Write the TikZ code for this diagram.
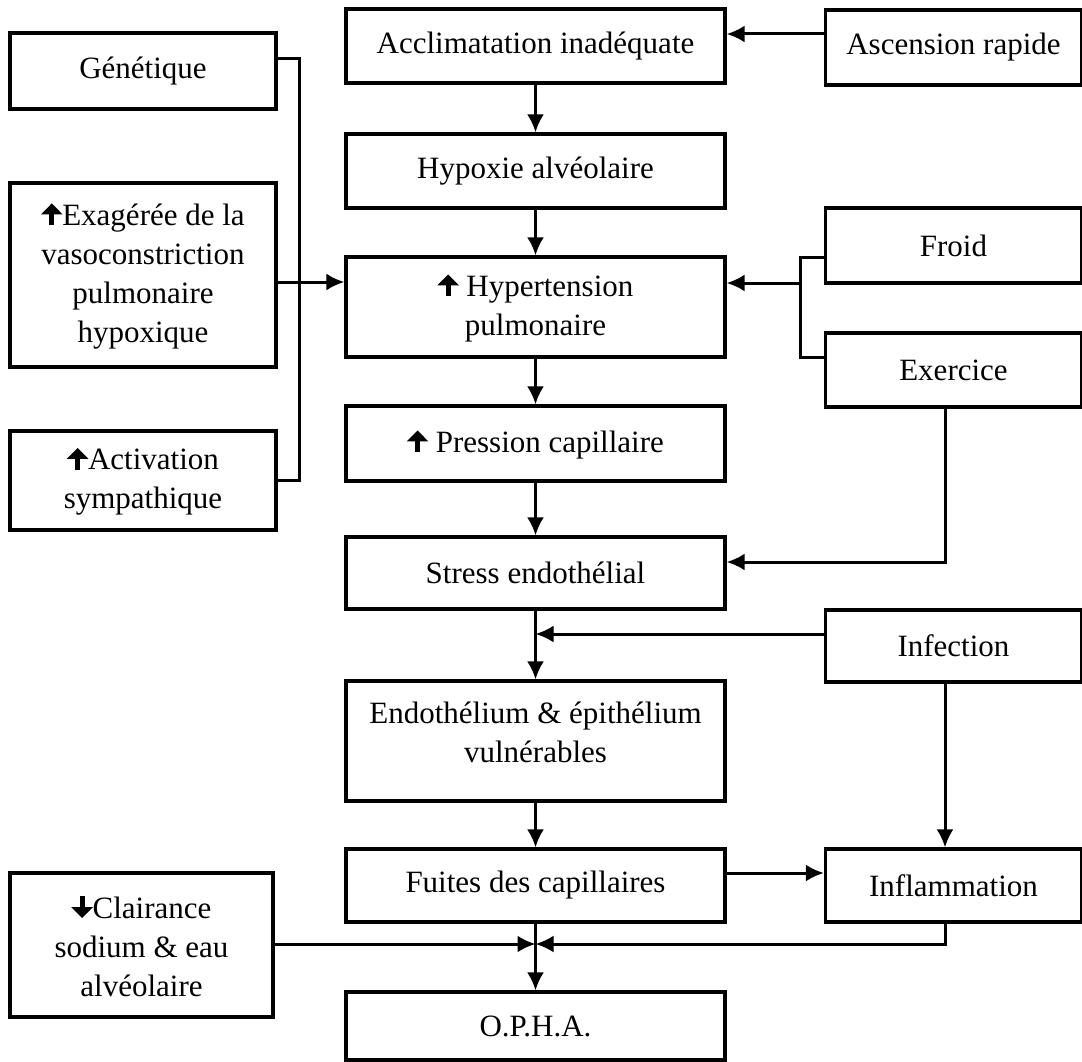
\documentclass[tikz,border=0pt]{standalone}
\usepackage{fontspec}
\setmainfont{Liberation Serif}
\usetikzlibrary{arrows.meta}
% fleche pleine dans le texte
\newcommand{\haut}{\tikz[baseline=0pt,x=1pt,y=1pt]\draw[line width=5pt,-{Triangle[length=11pt,width=21pt]}] (10,0) -- (10,22);}
\newcommand{\bas}{\tikz[baseline=0pt,x=1pt,y=1pt]\draw[line width=5pt,-{Triangle[length=11pt,width=21pt]}] (10,22) -- (10,0);}
\tikzset{
  boite/.style={draw,rectangle,align=center,inner sep=0pt,line width=3.2pt,
    font=\fontsize{31}{39}\selectfont},
  centre/.style={boite,minimum width=379pt},
  cote/.style={boite,minimum width=256pt}
}
\begin{document}
\begin{tikzpicture}[x=1pt,y=-1pt,>={Latex[length=18pt,width=17pt]},line width=3pt]
   \useasboundingbox (0,0) rectangle (1082,1062);

   % colonne centrale
   \node[centre,minimum height=74pt] (accl) at (535.5,46) {Acclimatation inadéquate};
   \node[centre,minimum height=74pt] (hypox) at (535.5,171) {Hypoxie alvéolaire};
   \node[centre,minimum height=100pt] (hyper) at (535.5,307) {\haut\ Hypertension\\pulmonaire};
   \node[centre,minimum height=75pt] (press) at (535.5,443.5) {\haut\ Pression capillaire};
   \node[centre,minimum height=72pt] (stress) at (535.5,573) {Stress endothélial};
   \node[centre,minimum height=120pt] (endo) at (535.5,741) {Endothélium \& épithélium\\vulnérables\\[-22pt]\mbox{}};
   \node[centre,minimum height=73pt] (fuites) at (535.5,885.5) {Fuites des capillaires};
   \node[centre,minimum height=68pt] (opha) at (535.5,1026) {O.P.H.A.};

   % colonne gauche
   \node[boite,minimum width=266pt,minimum height=76pt] (genet) at (143,71) {Génétique};
   \node[boite,minimum width=266pt,minimum height=184pt] (exag) at (143,275) {\haut Exagérée de la\\vasoconstriction\\pulmonaire\\hypoxique};
   \node[boite,minimum width=266pt,minimum height=99pt] (activ) at (143,480.5) {\haut Activation\\sympathique};
   \node[boite,minimum width=263pt,minimum height=144pt] (clair) at (141.5,945) {\bas Clairance\\sodium \& eau\\alvéolaire};

   % colonne droite
   \node[cote,minimum height=75pt] (asc) at (953.5,47.5) {Ascension rapide};
   \node[cote,minimum height=75pt] (froid) at (953.5,245.5) {Froid};
   \node[cote,minimum height=74pt] (exer) at (953.5,370) {Exercice};
   \node[cote,minimum height=72pt] (infect) at (953.5,646) {Infection};
   \node[cote,minimum height=73pt] (inflam) at (953.5,885.5) {Inflammation};

   % fleches
   \draw[->] ([yshift=13.5pt]asc.west) -- ([yshift=13.5pt]asc.west -| accl.east);
   \draw[->] (accl) -- (hypox);
   \draw[->] (hypox) -- (hyper);
   \draw[->] (hyper) -- (press);
   \draw[->] (press) -- (stress);
   \draw[->] (stress) -- (endo);
   \draw[->] (endo) -- (fuites);
   \draw[->] (fuites) -- (opha);

   \coordinate (gbus) at (299,282);
   \draw ([yshift=12pt]genet.east) -| (gbus) |- (activ.east);
   \draw[->] (exag.east |- gbus) -- (hyper.west |- gbus);

   \coordinate (dbus) at (800,283);
   \draw ([yshift=-11.5pt]froid.west) -| (dbus) |- ([yshift=13pt]exer.west);
   \draw[->] (dbus) -- (hyper.east |- dbus);

   \draw[->] ([xshift=-8.5pt]exer.south) |- ([yshift=11pt]stress.east);
   \draw[->] ([yshift=12pt]infect.west) -- ([yshift=12pt]infect.west -| stress.south);
   \draw[->] ([xshift=-8.5pt]infect.south) -- ([xshift=-8.5pt]inflam.north);
   \draw[->] ([yshift=12.5pt]fuites.east) -- ([yshift=12.5pt]inflam.west);

   \coordinate (jonction) at (535.5,944);
   \draw[->] (clair.east |- jonction) -- (jonction);
   \draw[->] ([xshift=-8.5pt]inflam.south) |- (jonction);
\end{tikzpicture}
\end{document}
